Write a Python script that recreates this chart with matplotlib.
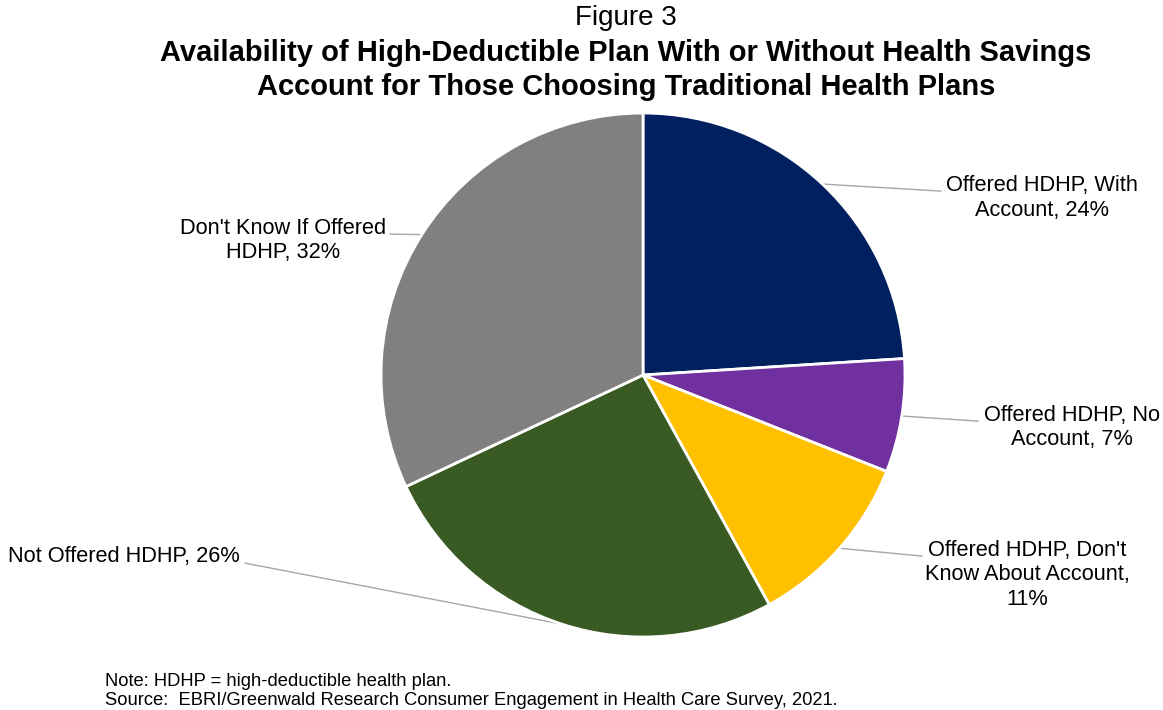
import numpy as np
import matplotlib.pyplot as plt

plt.rcParams['font.family'] = ['Liberation Sans', 'DejaVu Sans']

# data
labels = ["Offered HDHP, With\nAccount, 24%",
          "Offered HDHP, No\nAccount, 7%",
          "Offered HDHP, Don't\nKnow About Account,\n11%",
          "Not Offered HDHP, 26%",
          "Don't Know If Offered\nHDHP, 32%"]
shares = [24, 7, 11, 26, 32]
colors = ['#002060', '#7030A0', '#FFC000', '#3A5A24', '#808080']

# label placement (text anchor, leader end), in pie units
text_pos = [(1.523, 0.676), (1.637, -0.200), (1.466, -0.763), (-1.538, -0.691), (-1.374, 0.513)]
line_end = [(1.137, 0.702), (1.279, -0.176), (1.065, -0.691), (-1.519, -0.718), (-0.966, 0.538)]
text_ha = ['center', 'center', 'center', 'right', 'center']

fig = plt.figure(figsize=(11.63, 7.10), dpi=100)
ax = fig.add_axes([0.3276, 0.1028, 0.4506, 0.738])
wedges, _ = ax.pie(shares, colors=colors, startangle=90, counterclock=False, radius=1,
                   wedgeprops=dict(edgecolor='white', linewidth=2))
ax.set_xlim(-1, 1)
ax.set_ylim(-1, 1)
ax.set_aspect('equal')
ax.axis('off')

for w, lab, tp, le, ha in zip(wedges, labels, text_pos, line_end, text_ha):
    ang = np.deg2rad((w.theta1 + w.theta2) / 2)
    x0, y0 = np.cos(ang), np.sin(ang)
    ax.plot([x0, le[0]], [y0, le[1]], color='#A6A6A6', lw=1, clip_on=False, zorder=0)
    ax.text(tp[0], tp[1], lab, ha=ha, va='center', multialignment='center',
            fontsize=15.7, color='black', linespacing=1.2, clip_on=False)

fig.text(0.538, 0.974, "Figure 3", ha='center', va='center', fontsize=20)
fig.text(0.538, 0.9015, "Availability of High-Deductible Plan With or Without Health Savings\n"
         "Account for Those Choosing Traditional Health Plans",
         ha='center', va='center', fontsize=21, fontweight='bold', linespacing=1.27)

fig.text(0.0903, 0.027, "Note: HDHP = high-deductible health plan.\n"
         "Source:  EBRI/Greenwald Research Consumer Engagement in Health Care Survey, 2021.",
         ha='left', va='center', fontsize=13.2, linespacing=1.15)

fig.savefig('out.png', dpi=100)
